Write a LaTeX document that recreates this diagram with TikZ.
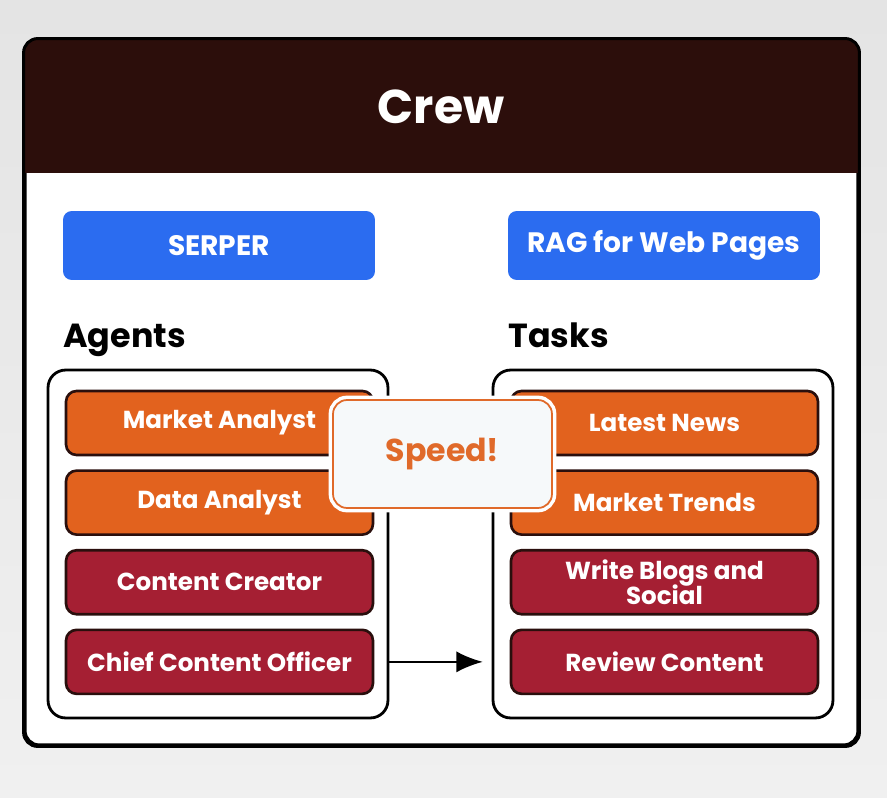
\documentclass[tikz,border=0pt]{standalone}
\usepackage{fontspec}
\setmainfont{Poppins}
\usetikzlibrary{positioning,arrows.meta}

\definecolor{crewbrown}{RGB}{44,14,11}
\definecolor{toolblue}{RGB}{43,108,240}
\definecolor{roleorange}{RGB}{226,98,30}
\definecolor{rolered}{RGB}{165,31,51}
\definecolor{boxline}{RGB}{42,15,13}
\definecolor{speedorange}{RGB}{224,106,42}
\definecolor{bgtop}{RGB}{228,228,228}
\definecolor{bgbottom}{RGB}{240,240,240}

\begin{document}
\begin{tikzpicture}[x=0.02cm, y=-0.02cm, >={Latex[length=15pt,width=12pt]},
  node distance=0.26cm,
  tool/.style={rounded corners=5pt, fill=toolblue, text=white, font=\bfseries\fontsize{16}{18}\selectfont, minimum width=6.24cm, minimum height=1.38cm},
  heading/.style={anchor=base west, inner sep=0pt, font=\bfseries\fontsize{19}{21}\selectfont},
  group/.style={draw=black, line width=1.6pt, rounded corners=10pt, fill=white, minimum width=6.8cm, minimum height=6.96cm},
  role/.style={draw=boxline, line width=1.5pt, rounded corners=6pt, text=white, align=center, inner sep=1pt, font=\bfseries\fontsize{14}{14}\selectfont, minimum width=6.14cm, minimum height=1.28cm},
  hot/.style={role, fill=roleorange},
  cool/.style={role, fill=rolered}]
% background and crew frame
\shade[top color=bgtop, bottom color=bgbottom] (0,0) rectangle (887,798);
\useasboundingbox (0,0) rectangle (887,798);
\node[draw=black, line width=1.7pt, rounded corners=8pt, fill=white, minimum width=16.66cm, minimum height=14.1cm] (crew) at (441.5,392.5) {};
\begin{scope}
\clip[rounded corners=8pt] (crew.north west) rectangle (crew.south east);
\fill[crewbrown] (crew.north west) rectangle (858,173);
\end{scope}
\draw[black, line width=1.7pt, rounded corners=8pt] (crew.north west) rectangle (crew.south east);
\node[text=white, font=\bfseries\fontsize{27}{30}\selectfont] (title) at (441,107) {Crew};

% tools
\node[tool] (serper) at (219,245.5) {SERPER};
\node[tool] (rag) at (664,245.5) {RAG for Web Pages};

% agents
\node[heading] (agentslbl) at (63,347) {Agents};
\node[group] (agents) at (218,544) {};
\node[hot] (market) at (219.5,423) {Market Analyst};
\node[hot, below=of market] (data) {Data Analyst};
\node[cool, below=of data] (creator) {Content Creator};
\node[cool, below=of creator] (chief) {Chief Content Officer};

% tasks
\node[heading] (taskslbl) at (508,347) {Tasks};
\node[group] (tasks) at (663,544) {};
\node[hot] (news) at (664.5,423) {Latest News};
\node[hot, below=of news] (trends) {Market Trends};
\node[cool, below=of trends] (blogs) {Write Blogs and\\[-2pt]Social};
\node[cool, below=of blogs] (review) {Review Content};

\draw[->, line width=1.4pt, shorten >=5pt] (chief.east -| agents.east) -- (review.west -| tasks.west);

% speed badge
\node[draw=speedorange, line width=1pt, rounded corners=8pt, fill={rgb,255:red,246;green,249;blue,250},
  preaction={draw=white, line width=5pt}, text=speedorange, font=\bfseries\fontsize{18}{20}\selectfont,
  minimum width=4.38cm, minimum height=2.16cm] (speed) at (442.5,454) {Speed!};
\end{tikzpicture}
\end{document}
